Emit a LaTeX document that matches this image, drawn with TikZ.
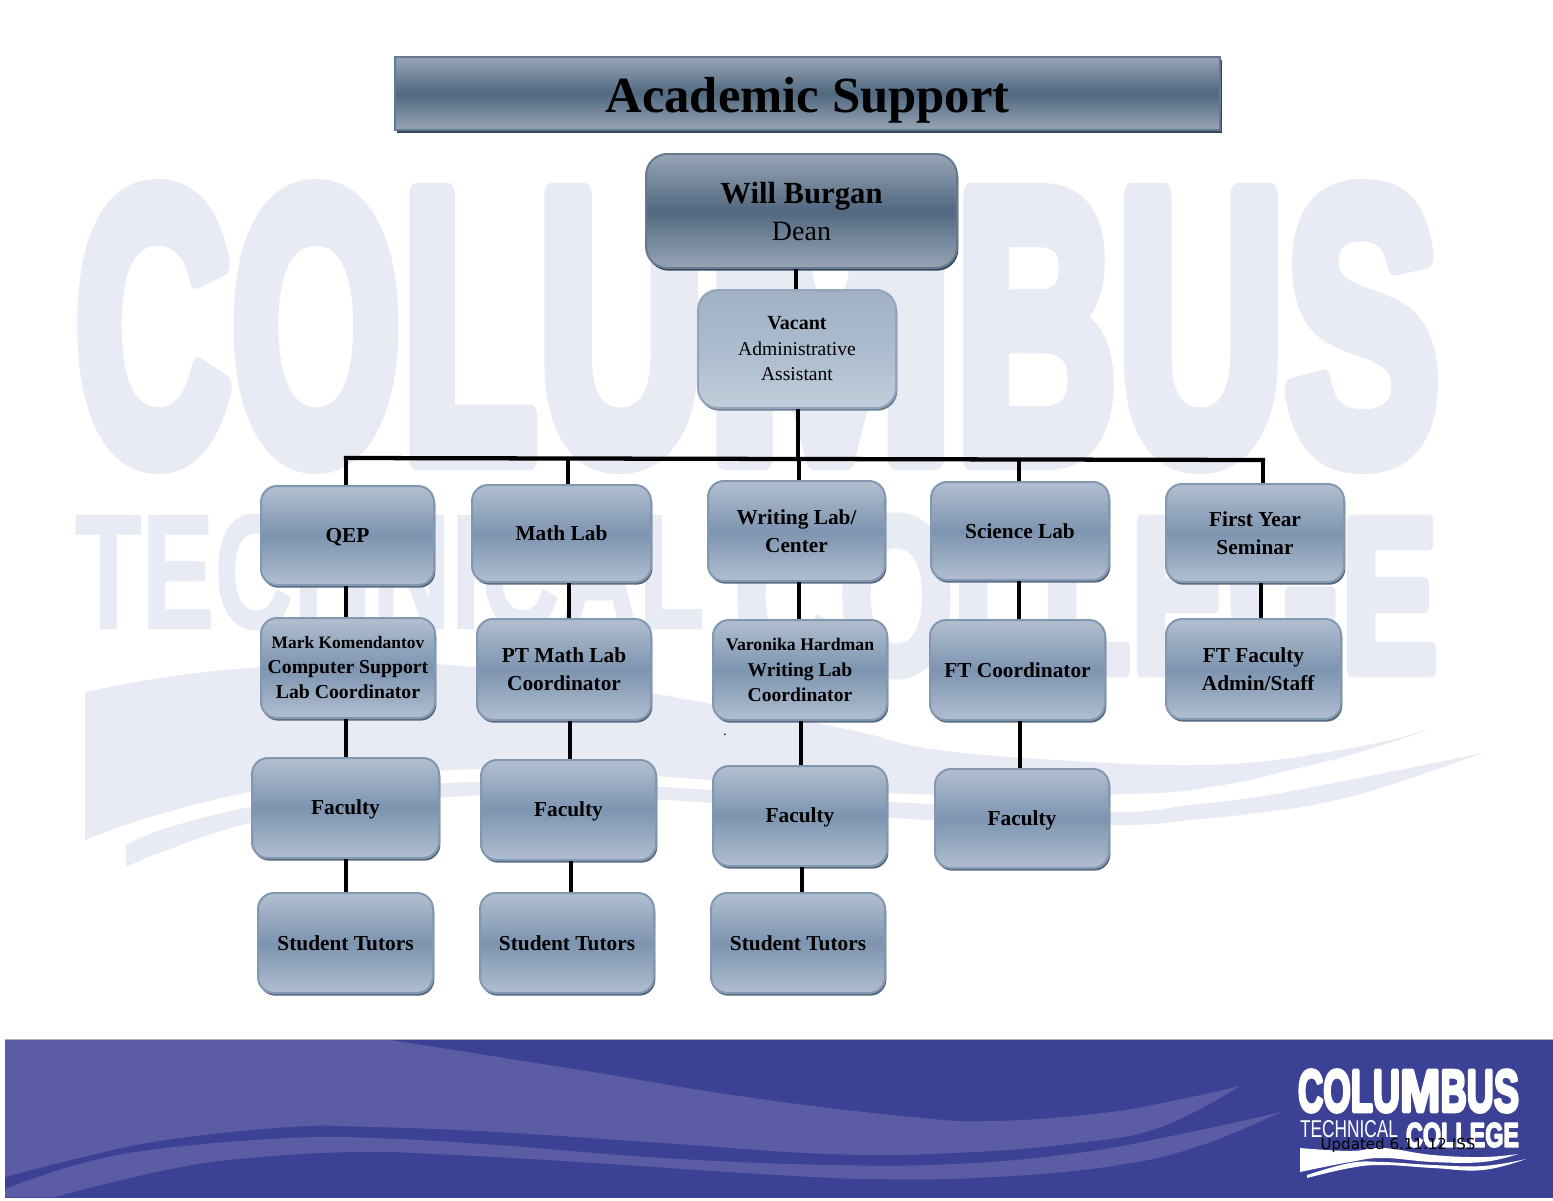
\documentclass[tikz,border=0pt]{standalone}
\usepackage{fontspec}
\usepackage{graphicx}
\setmainfont{Liberation Serif}
\newfontface\wmheavy[FakeBold=6]{Liberation Sans Bold}
\newfontface\wmcoll[FakeBold=5]{Liberation Sans Bold}
\newfontface\wmmed[FakeBold=1]{Liberation Sans Bold}
\newfontface\wmlight{Liberation Sans}
\newfontface\upd{DejaVu Sans}
\definecolor{wm}{HTML}{E8EAF4}
\definecolor{band}{HTML}{3B4295}
\definecolor{bandlt}{HTML}{5C5CA4}
\definecolor{bluetop}{HTML}{B2BFD0}
\definecolor{bluemid}{HTML}{7D94B0}
\definecolor{bluebot}{HTML}{B0BED0}
\definecolor{blueedge}{HTML}{8297B0}
\definecolor{blueshad}{HTML}{56677E}
\definecolor{darktop}{HTML}{97A5B5}
\definecolor{darkmid}{HTML}{516880}
\definecolor{darkedge}{HTML}{66798F}
\definecolor{darkshad}{HTML}{34475C}
\definecolor{paletop}{HTML}{A0B1C4}
\definecolor{palemid}{HTML}{ABBCCE}
\definecolor{palebot}{HTML}{C2CDDA}
\definecolor{paleedge}{HTML}{93A5BA}
\definecolor{paleshad}{HTML}{6B7C90}
\tikzset{
  x=0.75pt,y=-0.75pt,
  boxbase/.style={draw,line width=1.5pt,inner sep=0pt,align=center,text=black,
    font=\fontsize{16}{21}\selectfont\bfseries},
  bluebox/.style={boxbase,rounded corners=12pt,draw=blueedge,
    preaction={fill=blueshad,transform canvas={xshift=1pt,yshift=-2pt}},
    top color=bluetop,bottom color=bluebot,middle color=bluemid},
  palebox/.style={boxbase,rounded corners=15pt,draw=paleedge,
    preaction={fill=paleshad,transform canvas={xshift=1pt,yshift=-2pt}},
    top color=paletop,bottom color=palebot,middle color=palemid},
  deanbox/.style={boxbase,rounded corners=16pt,draw=darkedge,
    preaction={fill=darkshad,transform canvas={xshift=1pt,yshift=-2pt}},
    top color=darktop,bottom color=darktop,middle color=darkmid},
  titlebox/.style={boxbase,sharp corners,draw=darkedge,
    preaction={fill=darkshad,transform canvas={xshift=1.4pt,yshift=-2.6pt}},
    top color=darktop,bottom color=darktop,middle color=darkmid},
  link/.style={draw=black,line width=3.2pt,line cap=butt},
  wmtext/.style={inner sep=0pt,outer sep=0pt,text=wm},
  logotext/.style={inner sep=0pt,outer sep=0pt,text=white}
}
% style, name, x0, y0, x1, y1, text
\newcommand\orgbox[7]{\node[#1,minimum width={(#5-#3)*0.75pt},minimum height={(#6-#4)*0.75pt}]
  (#2) at ({(#3+#5)/2},{(#4+#6)/2}) {#7};}
% style, name, font, x0, y0, x1, y1, text
\newcommand\fitword[8]{\node[#1] (#2) at ({(#4+#6)/2},{(#5+#7)/2})
  {\pgfsetroundjoin\resizebox{\dimexpr #6pt*3/4-#4pt*3/4\relax}{\dimexpr #7pt*3/4-#5pt*3/4\relax}{\fontsize{100}{100}#3#8}};}
\newcommand\lowtxt[1]{\rule{0pt}{13.8pt}#1}
\newcommand\columbusword{\scalebox{.93}[1]{C}\scalebox{.94}[1]{O}\scalebox{.96}[1]{L}U\scalebox{1.29}[1]{M}\scalebox{.965}[1]{B}US}
\begin{document}
\begin{tikzpicture}
\useasboundingbox (0,0) rectangle (1553,1200);
\fill[white] (0,0) rectangle (1553,1200);
% watermark
\fitword{wmtext}{wmcolumbus}{\wmheavy}{75}{192.5}{1440}{460.5}{\columbusword}
\fitword{wmtext}{wmtechnical}{\wmmed}{75}{515}{705}{629}{TECHNICAL}
\fitword{wmtext}{wmcollege}{\wmcoll}{735}{519}{1438}{673}{COLLEGE}
\fill[wm] plot[smooth,tension=0.7] coordinates {(85,692)(167,677)(260,667)(350,662)(450,665)(570,680)(690,700)(846,729)(938,750)(1090,762)(1190,765)(1257,762)(1323,753)(1390,740)(1437,727)}
  -- plot[smooth,tension=0.7] coordinates {(1437,727)(1357,753)(1290,770)(1223,785)(1130,794)(910,794)(712,780)(560,770)(450,770)(350,778)(250,792)(150,817)(85,840)} -- cycle;
\fill[wm] plot[smooth,tension=0.7] coordinates {(126,845)(167,828)(250,807)(350,792)(450,783)(560,782)(712,790)(910,803)(1110,812)(1190,805)(1257,797)(1323,785)(1390,772)(1483,753)}
  -- plot[smooth,tension=0.7] coordinates {(1483,753)(1390,785)(1323,803)(1257,813)(1190,820)(1110,825)(910,819)(712,803)(560,795)(450,797)(350,808)(250,823)(167,850)(126,867)} -- cycle;
% banner
\fill[band] (5,1040) rectangle (1553,1198);
\draw[gray!60,line width=0.5pt] (5,1039.5) -- (1553,1039.5);
\fill[bandlt] (5,1040) -- (390,1040) -- plot[smooth,tension=0.7] coordinates {(390,1040)(580,1070)(746,1097)(912,1117)(995,1121)(1103,1113)(1177,1100)(1240,1086)}
  -- plot[smooth,tension=0.7] coordinates {(1240,1086)(1161,1127)(1078,1143)(954,1153)(829,1154)(663,1143)(497,1132)(373,1127)(290,1127)(166,1140)(83,1157)(5,1177)} -- cycle;
\fill[bandlt] plot[smooth,tension=0.7] coordinates {(5,1189)(83,1163)(166,1148)(290,1138)(373,1138)(497,1145)(663,1158)(829,1165)(954,1164)(1078,1153)(1186,1133)(1281,1112)}
  -- plot[smooth,tension=0.7] coordinates {(1281,1112)(1202,1145)(1119,1165)(995,1177)(871,1179)(746,1173)(580,1162)(456,1155)(357,1152)(249,1158)(166,1170)(54,1197)} -- (5,1197) -- cycle;
% logo
\fitword{logotext}{logocolumbus}{\wmheavy}{1298}{1070.2}{1519}{1111.8}{\columbusword}
\fitword{logotext}{logotechnical}{\wmlight}{1300}{1121}{1398}{1138}{TECHNICAL}
\fitword{logotext}{logocollege}{\wmcoll}{1406}{1123}{1519}{1147}{COLLEGE}
\fill[white] plot[smooth,tension=0.7] coordinates {(1300,1148)(1350,1151)(1383,1148)(1433,1155)(1483,1157)(1518,1154)}
  -- plot[smooth,tension=0.7] coordinates {(1518,1154)(1483,1162)(1433,1162)(1383,1158)(1350,1162)(1300,1172)} -- cycle;
\fill[white] plot[smooth,tension=0.7] coordinates {(1307,1175)(1350,1163)(1383,1162)(1433,1165)(1483,1166)(1526,1159)}
  -- plot[smooth,tension=0.7] coordinates {(1526,1159)(1483,1170)(1433,1168)(1383,1165)(1350,1168)(1307,1178)} -- cycle;
\node[inner sep=0pt,text=black,font=\fontsize{11.3}{13}\upd] (updated) at (1398,1145) {Updated 6.11.12 ISS};
% boxes
\orgbox{titlebox}{title}{395}{57}{1220}{130}{\raisebox{-13.9pt}[0pt][0pt]{\fontsize{38}{44}\selectfont Academic Support}}
\orgbox{deanbox}{dean}{646}{154}{957}{268}{{\fontsize{23}{28}\selectfont Will Burgan}\\[6.75pt]{\fontsize{21}{28}\selectfont\mdseries Dean}}
\orgbox{palebox}{vacant}{698}{290}{896}{408}{\fontsize{15}{19.2}\selectfont Vacant\\[-1.9pt]\fontsize{14.7}{19.2}\selectfont\mdseries Administrative\\[-1.9pt]\fontsize{14.7}{19.2}\selectfont\mdseries Assistant}
\orgbox{bluebox}{qep}{261}{486}{434}{585}{\lowtxt{QEP}}
\orgbox{bluebox}{math}{472}{485}{651}{582}{Math Lab}
\orgbox{bluebox}{writing}{708}{481}{885}{581}{Writing Lab/\\Center}
\orgbox{bluebox}{science}{931}{482}{1109}{580}{Science Lab}
\orgbox{bluebox}{first}{1166}{484}{1344}{582}{First Year\\Seminar}
\orgbox{bluebox}{mark}{261}{618}{435}{718}{{\fontsize{13.1}{18.8}\selectfont Mark Komendantov}\\[-2.25pt]{\fontsize{14.8}{18.8}\selectfont Computer Support}\\[-2.25pt]{\fontsize{14.8}{18.8}\selectfont Lab Coordinator}}
\orgbox{bluebox}{ptmath}{477}{619}{651}{720}{PT Math Lab\\Coordinator}
\orgbox{bluebox}{varonika}{713}{620}{887}{720}{{\fontsize{13.3}{19}\selectfont Varonika Hardman}\\[-2pt]{\fontsize{14.7}{19}\selectfont Writing Lab}\\[-2pt]{\fontsize{14.7}{19}\selectfont Coordinator}}
\orgbox{bluebox}{ftcoord}{930}{620}{1105}{720}{FT Coordinator}
\orgbox{bluebox}{ftfac}{1166}{619}{1341}{719}{FT Faculty\\\hspace*{7pt}Admin/Staff}
\orgbox{bluebox}{faca}{252}{758}{439}{858}{\lowtxt{Faculty}}
\orgbox{bluebox}{facb}{481}{760}{656}{860}{\lowtxt{Faculty}}
\orgbox{bluebox}{facc}{713}{766}{887}{866}{\lowtxt{Faculty}}
\orgbox{bluebox}{facd}{935}{769}{1109}{868}{\lowtxt{Faculty}}
\orgbox{bluebox}{stua}{258}{893}{433}{993}{Student Tutors}
\orgbox{bluebox}{stub}{480}{893}{654}{993}{Student Tutors}
\orgbox{bluebox}{stuc}{711}{893}{885}{993}{Student Tutors}
\node[inner sep=0pt,font=\fontsize{11}{12}\selectfont] (dot) at (725,735) {.};
% connectors
\coordinate (spineL) at (346,458);
\coordinate (spineR) at (1263,460);
\draw[link] (796,0 |- dean.south) -- (796,0 |- vacant.north);
\draw[link] (798,0 |- vacant.south) -- (798,459);
\draw[link] ([xshift=-1.6pt]spineL) -- ([xshift=1.6pt]spineR);
\draw[link] (spineL) -- (346,0 |- qep.north);
\draw[link] (568,459) -- (568,0 |- math.north);
\draw[link] (799,459) -- (799,0 |- writing.north);
\draw[link] (1019,459) -- (1019,0 |- science.north);
\draw[link] (spineR) -- (1263,0 |- first.north);
\draw[link] (346,0 |- qep.south) -- (346,0 |- mark.north);
\draw[link] (346,0 |- mark.south) -- (346,0 |- faca.north);
\draw[link] (346,0 |- faca.south) -- (346,0 |- stua.north);
\draw[link] (569,0 |- math.south) -- (569,0 |- ptmath.north);
\draw[link] (570,0 |- ptmath.south) -- (570,0 |- facb.north);
\draw[link] (571,0 |- facb.south) -- (571,0 |- stub.north);
\draw[link] (799,0 |- writing.south) -- (799,0 |- varonika.north);
\draw[link] (801,0 |- varonika.south) -- (801,0 |- facc.north);
\draw[link] (802,0 |- facc.south) -- (802,0 |- stuc.north);
\draw[link] (1019,0 |- science.south) -- (1019,0 |- ftcoord.north);
\draw[link] (1020,0 |- ftcoord.south) -- (1020,0 |- facd.north);
\draw[link] (1261,0 |- first.south) -- (1261,0 |- ftfac.north);
\end{tikzpicture}
\end{document}
